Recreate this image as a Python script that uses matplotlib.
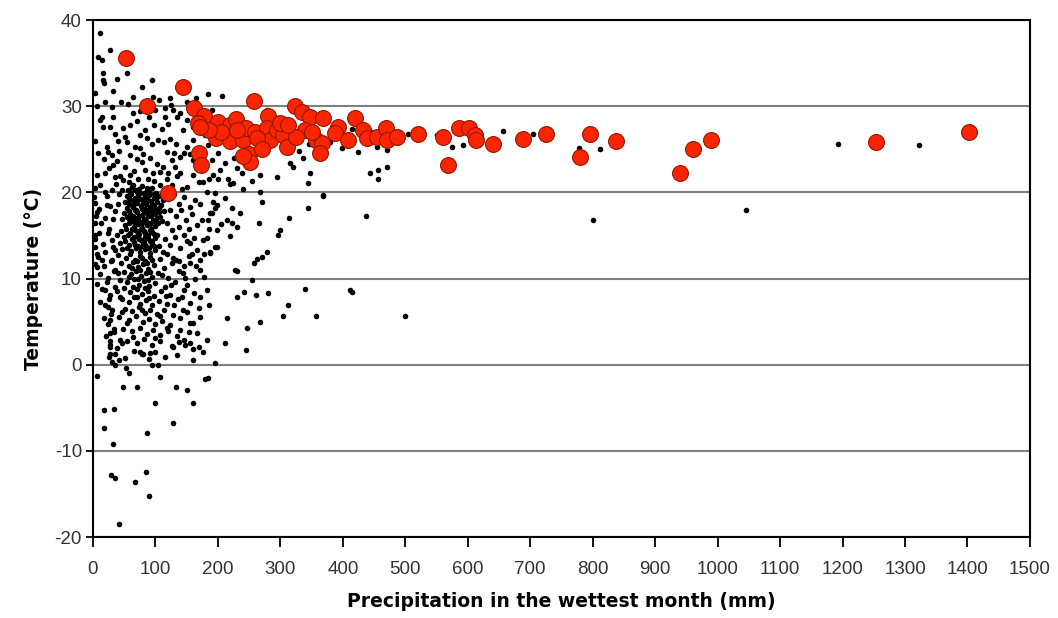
import numpy as np
import matplotlib.pyplot as plt

plt.rcParams['axes.unicode_minus'] = False

# red sites (precipitation mm, temperature C)
red_pts = [(53, 35.6), (144, 32.2), (86, 30.0), (258, 30.6), (120, 19.9), (162, 29.8), (178, 28.9),
           (168, 28.1), (200, 28.2), (219, 27.8), (229, 28.5), (197, 26.3), (219, 26.0), (240, 26.1),
           (245, 27.5), (259, 27.0), (280, 28.9), (278, 27.5), (283, 26.1), (250, 24.5), (251, 23.5),
           (170, 24.6), (173, 23.2), (294, 27.2), (304, 26.7), (310, 25.3), (323, 30.0), (334, 29.3),
           (347, 28.7), (339, 27.2), (325, 26.4), (357, 26.1), (366, 25.7), (363, 24.6), (368, 28.6),
           (392, 27.6), (387, 26.9), (408, 26.1), (419, 28.6), (432, 27.2), (438, 26.3), (454, 26.4),
           (469, 27.5), (470, 26.1), (486, 26.4), (520, 26.8), (560, 26.4), (568, 23.2), (586, 27.5),
           (602, 27.5), (611, 26.7), (613, 26.1), (640, 25.6), (688, 26.2), (726, 26.8), (779, 24.1),
           (795, 26.8), (838, 26.0), (939, 22.2), (960, 25.0), (990, 26.1), (1253, 25.9), (1402, 27.0),
           (205, 27.0), (230, 27.2), (263, 26.3), (300, 28.0), (312, 27.8), (270, 25.0), (240, 24.2),
           (185, 27.2), (350, 27.0), (171, 27.6)]

# black sites, upper left and along the red band
upper_pts = [(11, 38.5), (27, 36.5), (8, 35.7), (14, 35.4), (16, 33.9), (16, 33.0), (18, 32.7), (54, 33.9),
             (38, 33.2), (32, 31.8), (78, 32.2), (64, 31.1), (96, 31.1), (106, 30.7), (123, 30.9), (184, 31.4),
             (206, 31.2), (125, 30.1), (128, 29.6), (115, 29.8), (64, 29.2), (75, 29.4), (32, 28.7), (14, 28.7),
             (139, 29.2), (30, 29.9), (115, 28.7), (134, 28.7), (150, 28.4), (144, 27.2), (83, 27.2), (75, 26.7),
             (86, 26.3), (48, 27.5), (27, 27.6), (16, 27.6), (11, 28.4), (22, 25.3), (24, 24.7), (30, 24.3),
             (8, 24.6), (32, 23.2), (59, 24.3), (75, 25.1), (104, 26.1), (118, 24.7), (126, 23.8), (112, 23.0),
             (107, 22.4), (131, 23.0), (139, 24.1), (150, 25.3), (160, 26.1), (179, 26.7), (184, 25.5),
             (190, 23.8), (200, 24.6), (211, 23.4), (230, 22.8), (246, 23.0), (267, 22.0), (294, 21.8),
             (315, 23.4), (320, 23.0), (347, 22.2), (344, 21.1), (368, 19.7), (336, 24.0), (315, 24.7),
             (304, 26.1), (278, 29.6), (64, 20.9), (86, 20.5), (48, 21.4), (35, 21.8), (19, 22.2),
             (4, 26.0), (6, 22.0), (3, 20.5), (40, 26.0), (55, 25.8), (66, 22.5), (92, 24.0), (98, 27.8),
             (45, 30.5), (60, 27.8), (20, 30.5), (90, 28.8), (160, 22.0), (170, 21.2), (150, 20.6),
             (140, 22.3), (180, 22.8), (200, 21.5), (220, 21.0), (240, 20.4), (255, 21.3), (96, 22.2),
             (78, 23.5), (52, 23.0), (42, 24.8), (150, 30.5), (165, 31.0), (95, 33.0), (3, 31.5), (6, 30.0),
             (52, 26.4), (68, 25.3), (80, 24.4), (95, 25.6), (110, 27.3), (124, 26.2), (133, 25.6),
             (145, 24.6), (160, 23.7), (172, 25.0), (108, 20.8), (120, 22.3), (98, 21.3), (84, 22.6),
             (72, 21.6), (60, 22.0), (46, 20.3), (38, 23.6), (70, 28.3), (56, 30.2), (100, 29.6),
             (120, 27.9), (160, 27.6), (190, 29.6), (210, 28.0),
             (130, 24.6), (113, 25.8), (102, 23.3), (88, 21.5), (156, 24.4), (166, 22.9), (186, 21.6),
             (204, 22.6), (226, 24.0), (70, 23.9), (57, 21.2), (35, 26.8), (18, 23.9)]

band_pts = [(330, 24.8), (345, 25.6), (380, 25.8), (400, 27.8), (398, 25.2), (415, 27.4), (425, 24.7),
            (445, 27.0), (455, 25.3), (470, 24.9), (490, 25.8), (505, 26.8), (550, 26.7), (575, 25.3),
            (592, 25.5), (620, 26.9), (656, 27.1), (704, 26.8), (778, 25.2), (811, 25.0), (1192, 25.6),
            (1322, 25.5), (1045, 18.0), (800, 16.8), (500, 5.6), (443, 22.2), (456, 22.6), (470, 23.0),
            (456, 21.6), (368, 19.6), (344, 18.2), (437, 17.3), (314, 17.0), (299, 15.6), (296, 15.1),
            (266, 16.5), (270, 12.5), (278, 13.1), (339, 8.8), (411, 8.7), (415, 8.4), (312, 6.9),
            (304, 5.7), (357, 5.7), (267, 4.9), (246, 4.3), (280, 8.3), (261, 8.1), (230, 7.9),
            (230, 10.9), (254, 9.8), (242, 8.4), (214, 5.4), (211, 2.5), (245, 1.7), (227, 11.0),
            (257, 11.8), (262, 12.3), (216, 21.6), (224, 21.1), (192, 22.0), (195, 19.9), (182, 20.0),
            (176, 21.2), (238, 22.2), (267, 20.0), (270, 18.9), (195, 18.2), (190, 17.6), (184, 16.8),
            (174, 16.8), (198, 15.6), (182, 14.7), (195, 13.7), (187, 13.0), (214, 16.8), (222, 16.5),
            (230, 16.0), (235, 17.6), (222, 18.2)]

# dense core near 50-110 mm
core_pts = [(56, 20.3), (63, 20.6), (71, 20.1), (78, 20.7), (86, 20.2), (94, 20.5), (101, 19.9),
            (54, 19.6), (61, 19.8), (68, 19.4), (75, 19.9), (83, 19.5), (90, 19.7), (97, 19.3), (105, 19.6),
            (112, 19.1), (52, 18.9), (59, 19.1), (66, 18.7), (73, 19.2), (80, 18.8), (87, 19.0), (95, 18.6),
            (102, 18.9), (109, 18.5), (55, 18.2), (62, 18.5), (69, 18.0), (77, 18.4), (84, 18.1), (91, 18.3),
            (99, 17.9), (106, 18.2), (114, 17.8), (50, 17.6), (57, 17.8), (64, 17.3), (71, 17.7), (78, 17.4),
            (86, 17.6), (93, 17.2), (100, 17.5), (108, 17.1), (47, 16.9), (54, 17.1), (61, 16.7), (68, 17.0),
            (75, 16.6), (82, 16.9), (89, 16.5), (96, 16.8), (104, 16.4), (111, 16.7), (51, 16.2), (58, 16.4),
            (65, 16.0), (72, 16.3), (79, 15.9), (86, 16.2), (93, 15.8), (100, 16.1), (45, 15.5), (53, 15.7),
            (60, 15.3), (67, 15.6), (74, 15.2), (81, 15.5), (88, 15.1), (95, 15.4), (103, 15.0), (49, 14.8),
            (56, 15.0), (63, 14.6), (70, 14.9), (77, 14.5), (84, 14.8), (91, 14.4), (99, 14.7), (43, 14.1),
            (51, 14.3), (58, 13.9), (65, 14.2), (72, 13.8), (80, 14.1), (87, 13.7), (95, 14.0), (106, 13.8),
            (47, 13.4), (54, 13.6), (61, 13.2), (69, 13.5), (76, 13.1), (83, 13.4), (91, 13.0), (100, 13.3),
            (59, 20.0), (67, 20.3), (74, 20.4), (82, 19.9), (90, 20.1), (98, 19.8), (58, 19.4), (65, 19.1),
            (72, 19.6), (79, 19.2), (86, 19.4), (93, 19.0), (101, 19.3), (57, 18.6), (64, 18.3), (71, 18.8),
            (78, 18.1), (85, 18.7), (92, 17.9), (98, 18.4), (105, 17.7), (60, 17.5), (67, 17.9), (74, 17.2),
            (81, 17.8), (88, 17.3), (95, 17.7), (103, 17.0), (58, 16.9), (65, 16.6), (72, 16.9), (79, 16.4),
            (85, 16.7), (92, 16.3), (99, 16.6), (63, 15.8), (70, 15.5), (77, 15.7), (84, 15.3), (91, 15.6),
            (98, 15.2), (66, 14.8), (74, 14.6), (81, 14.3), (88, 14.7), (94, 14.3), (68, 13.9), (76, 13.7),
            (84, 13.9), (90, 13.5), (97, 13.8)]

mid_pts = [(40, 12.7), (53, 12.4), (60, 12.8), (67, 12.2), (75, 12.6), (83, 12.0), (92, 12.5), (108, 12.3),
           (118, 12.9), (45, 11.8), (57, 11.5), (64, 11.9), (72, 11.3), (80, 11.7), (88, 11.1), (97, 11.6),
           (113, 11.2), (126, 11.8), (36, 11.0), (50, 10.8), (61, 10.5), (69, 10.9), (77, 10.3), (85, 10.7),
           (94, 10.2), (104, 10.6), (120, 10.1), (138, 10.9), (43, 9.8), (55, 9.6), (66, 9.9), (74, 9.3),
           (82, 9.7), (90, 9.1), (100, 9.5), (115, 9.0), (131, 9.6), (150, 9.3), (38, 8.6), (49, 8.9),
           (60, 8.4), (71, 8.8), (79, 8.2), (88, 8.6), (97, 8.0), (109, 8.5), (124, 8.1), (145, 8.7),
           (162, 8.3), (46, 7.6), (57, 7.3), (66, 7.8), (76, 7.1), (85, 7.5), (94, 6.9), (105, 7.4),
           (118, 7.0), (136, 7.6), (52, 6.5), (63, 6.2), (73, 6.7), (83, 6.0), (92, 6.4), (102, 5.9),
           (113, 6.3), (128, 5.8), (150, 6.1), (170, 6.6), (41, 5.5), (58, 5.2), (69, 5.6), (80, 4.9),
           (90, 5.3), (99, 4.7), (110, 5.1), (124, 4.6), (140, 5.4), (160, 4.8), (48, 4.2), (62, 3.9),
           (75, 4.3), (86, 3.6), (96, 4.0), (107, 3.4), (120, 3.9), (134, 3.3), (153, 3.8), (55, 2.8),
           (70, 2.5), (82, 3.0), (95, 2.3), (108, 2.7), (126, 2.2), (145, 2.9), (170, 2.0), (66, 1.6),
           (80, 1.2), (100, 1.5), (115, 0.9), (135, 1.1), (160, 0.6),
           (187, 17.6), (198, 18.5), (155, 14.1), (166, 13.3), (176, 14.5), (171, 12.2), (187, 13.1),
           (198, 13.7), (144, 10.6), (155, 11.8), (171, 11.0), (182, 8.7), (171, 7.9), (155, 7.2),
           (144, 6.4), (171, 5.5), (155, 4.8), (139, 4.0), (166, 3.7), (182, 2.9), (155, 2.5), (128, 2.1),
           (91, 1.4), (75, 1.5), (27, 2.1), (27, 3.7), (27, 5.2), (24, 6.7), (19, 8.7), (6, 11.3),
           (8, 12.5), (3, 13.7), (3, 15.1), (3, 16.5), (6, 17.7), (3, 18.8), (22, 18.5), (19, 17.0),
           (24, 15.3), (32, 13.7), (30, 12.2), (40, 10.6), (35, 9.0), (43, 7.9), (46, 6.1), (54, 4.8),
           (64, 3.2), (43, 2.9),
           (71, 12.0), (79, 12.4), (87, 11.8), (95, 12.1), (63, 11.2), (76, 11.0), (92, 10.8), (58, 10.2),
           (72, 9.9), (88, 9.8), (64, 9.0), (84, 8.9), (70, 7.9), (90, 7.7), (78, 6.4),
           (110, 10.4), (125, 9.3), (133, 12.2), (148, 10.1), (117, 8.0), (130, 6.9), (142, 7.8),
           (108, 5.7), (119, 4.3), (137, 2.6), (100, 3.1), (163, 9.9), (178, 10.2), (186, 6.9)]

edge_pts = [(2, 19.5), (5, 17.2), (9, 18.1), (13, 16.4), (4, 14.6), (10, 15.3), (16, 14.0), (7, 12.9),
            (14, 12.2), (20, 13.1), (3, 11.7), (11, 10.5), (18, 11.4), (24, 10.1), (6, 9.4), (15, 8.8),
            (22, 9.6), (28, 8.1), (12, 7.3), (19, 6.9), (26, 7.6), (31, 6.3), (17, 5.4), (24, 4.7),
            (29, 5.9), (34, 4.2), (21, 3.3), (28, 2.7), (33, 3.8), (38, 1.9), (25, 0.9), (31, 0.3),
            (36, 1.2), (41, 0.5), (23, 19.6), (28, 18.4), (32, 16.9), (36, 17.8), (26, 15.7), (30, 14.5),
            (35, 13.3), (29, 12.0), (33, 10.9), (38, 15.1), (40, 18.6), (42, 19.8), (31, 20.3), (37, 21.0),
            (26, 22.8), (44, 21.9), (12, 20.8), (20, 20.0),
            (118, 21.6), (127, 20.8), (135, 21.9), (142, 20.4), (120, 19.2), (130, 19.8), (138, 18.7),
            (146, 19.5), (155, 18.3), (163, 19.1), (172, 18.6), (123, 18.0), (133, 17.2), (141, 17.9),
            (149, 16.8), (158, 17.5), (166, 16.2), (118, 16.5), (126, 15.6), (137, 16.0), (145, 15.1),
            (154, 15.8), (162, 14.7), (115, 14.6), (123, 13.9), (132, 14.8), (140, 13.5), (150, 14.3),
            (158, 12.9), (112, 13.1), (128, 12.4), (137, 12.0), (145, 11.4), (153, 12.6), (165, 11.5),
            (178, 12.8), (185, 15.8), (192, 18.9), (205, 16.3), (212, 19.3), (220, 14.9)]

# cold sites, below zero
low_pts = [(42, -18.5), (90, -15.2), (67, -13.6), (85, -12.4), (35, -13.2), (29, -12.8), (32, -9.2),
           (18, -7.3), (86, -7.9), (128, -6.8), (160, -4.4), (99, -4.4), (150, -2.9), (133, -2.6),
           (179, -1.7), (184, -1.5), (70, -2.6), (48, -2.6), (34, -5.1), (18, -5.2), (6, -1.3),
           (107, -1.4), (58, -1.0), (53, -0.4), (94, 0.0), (104, 0.0), (195, 0.2), (176, 1.5),
           (160, 1.8), (147, 2.3), (78, 1.3), (90, 0.7), (35, 0.0), (51, 0.8), (27, 1.3), (27, 2.3),
           (46, 2.5)]

black_pts = upper_pts + band_pts + core_pts + mid_pts + edge_pts + low_pts
bx, by = np.array(black_pts).T
rx, ry = np.array(red_pts).T

fig = plt.figure(figsize=(10.58, 6.18), dpi=100)
ax = fig.add_axes([0.0879, 0.131, 0.8856, 0.8366])

ax.scatter(bx, by, s=16, c='black', marker='o', linewidths=0, zorder=3)
ax.scatter(rx, ry, s=130, c='#ff2400', edgecolors='#8b1a00', linewidths=0.8, zorder=4)

ax.set_xlim(0, 1500)
ax.set_ylim(-20, 40)
ax.set_xticks(np.arange(0, 1501, 100))
ax.set_yticks(np.arange(-20, 41, 10))
ax.yaxis.grid(True, color='#7f7f7f', linewidth=1.5)
ax.set_axisbelow(True)
for s in ax.spines.values():
    s.set_linewidth(1.5)
ax.tick_params(axis='x', direction='out', length=7, width=1.3, pad=10, labelsize=13.5, labelcolor='#333333')
ax.tick_params(axis='y', direction='out', length=5, width=1.3, pad=3, labelsize=13.5, labelcolor='#333333')
for lab in ax.get_xticklabels() + ax.get_yticklabels():
    lab.set_family('Liberation Sans')

ax.set_xlabel("Precipitation in the wettest month (mm)", fontsize=13.5, fontweight='bold', labelpad=10)
ax.set_ylabel("Temperature (°C)", fontsize=13.5, fontweight='bold', labelpad=8)

fig.savefig("out.png", dpi=100)
